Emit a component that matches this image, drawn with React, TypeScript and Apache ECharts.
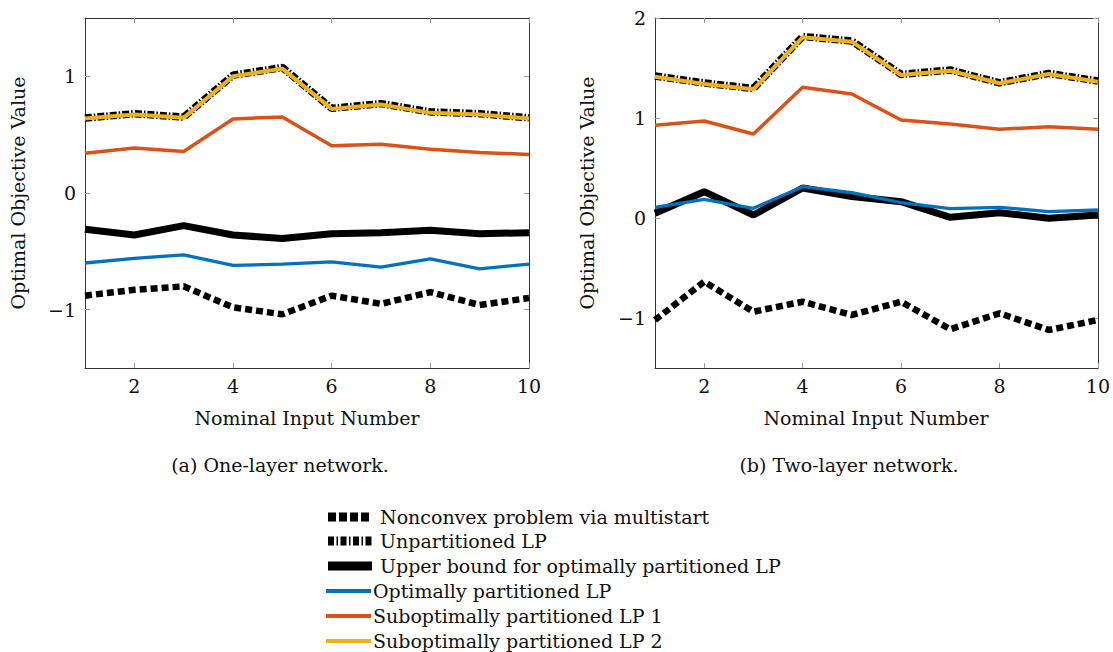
import React, { useEffect, useRef } from "react";
import * as echarts from "echarts";

const inputs = [1, 2, 3, 4, 5, 6, 7, 8, 9, 10];
const xTicks = [2, 4, 6, 8, 10];
const yTicksA = [-1, 0, 1];
const yTicksB = [-1, 0, 1, 2];

// (a) One-layer network
const aNonconvex = [-0.88, -0.83, -0.8, -0.98, -1.04, -0.88, -0.95, -0.85, -0.96, -0.9];
const aUnpartitioned = [0.642, 0.68, 0.65, 1.01, 1.076, 0.726, 0.766, 0.695, 0.68, 0.644];
const aUpperBound = [-0.31, -0.36, -0.28, -0.36, -0.39, -0.35, -0.34, -0.32, -0.35, -0.34];
const aOptimal = [-0.6, -0.56, -0.53, -0.62, -0.61, -0.59, -0.635, -0.565, -0.65, -0.61];
const aSub1 = [0.34, 0.385, 0.356, 0.635, 0.652, 0.405, 0.417, 0.376, 0.348, 0.33];
const aSub2 = [0.638, 0.672, 0.644, 1.0, 1.066, 0.721, 0.759, 0.687, 0.672, 0.638];

// (b) Two-layer network
const bNonconvex = [-1.02, -0.637, -0.937, -0.837, -0.97, -0.837, -1.113, -0.953, -1.12, -1.02];
const bUnpartitioned = [1.42, 1.35, 1.295, 1.815, 1.77, 1.436, 1.48, 1.352, 1.446, 1.37];
const bUpperBound = [0.047, 0.263, 0.03, 0.3, 0.215, 0.163, 0.007, 0.053, -0.003, 0.03];
const bOptimal = [0.107, 0.187, 0.097, 0.313, 0.253, 0.153, 0.093, 0.107, 0.063, 0.08];
const bSub1 = [0.927, 0.97, 0.84, 1.307, 1.24, 0.98, 0.94, 0.887, 0.913, 0.887];
const bSub2 = [1.413, 1.34, 1.287, 1.807, 1.763, 1.43, 1.473, 1.347, 1.44, 1.363];

const legendNames = [
  "Nonconvex problem via multistart",
  "Unpartitioned LP",
  "Upper bound for optimally partitioned LP",
  "Optimally partitioned LP",
  "Suboptimally partitioned LP 1",
  "Suboptimally partitioned LP 2",
];

const FONT = "DejaVu Serif";
const FS = 19;
const BLUE = "#0072BD";
const ORANGE = "#D95319";
const YELLOW = "#EDB120";

const fmt = (v: number) => (v < 0 ? "\u2212" + Math.abs(v) : String(v));

function makeAxes(gi: number, yMin: number, yMax: number, yTicks: number[]) {
  const axisLine = { show: true, onZero: false, lineStyle: { color: "#333", width: 1 } };
  const tickStyle = { color: "#999", width: 1 };
  const xBase = { gridIndex: gi, type: "value", min: 1, max: 10, splitLine: { show: false } };
  const yBase = { gridIndex: gi, type: "value", min: yMin, max: yMax, splitLine: { show: false } };
  const xAxes = [
    {
      ...xBase,
      position: "bottom",
      axisLine,
      axisTick: { show: true, inside: true, length: 5, customValues: xTicks, lineStyle: tickStyle },
      axisLabel: { show: true, customValues: xTicks, margin: 8, fontFamily: FONT, fontSize: FS, color: "#111" },
    },
    {
      ...xBase,
      position: "top",
      axisLine,
      axisTick: { show: true, inside: true, length: 5, customValues: xTicks, lineStyle: tickStyle },
      axisLabel: { show: false },
    },
  ];
  const yAxes = [
    {
      ...yBase,
      position: "left",
      axisLine,
      axisTick: { show: true, inside: true, length: 5, customValues: yTicks, lineStyle: tickStyle },
      axisLabel: {
        show: true,
        customValues: yTicks,
        margin: 9,
        fontFamily: FONT,
        fontSize: FS,
        color: "#111",
        formatter: fmt,
      },
    },
    {
      ...yBase,
      position: "right",
      axisLine,
      axisTick: { show: true, inside: true, length: 5, customValues: yTicks, lineStyle: tickStyle },
      axisLabel: { show: false },
    },
  ];
  return { xAxes, yAxes };
}

function makeSeries(gi: number, sets: number[][]) {
  const [non, unp, ub, opt, s1, s2] = sets;
  const toData = (arr: number[]) => inputs.map((x, i) => [x, arr[i]]);
  const base = {
    type: "line",
    xAxisIndex: gi * 2,
    yAxisIndex: gi * 2,
    symbol: "none",
    smooth: false,
    silent: true,
  };
  return [
    { ...base, name: legendNames[0], data: toData(non), lineStyle: { color: "#000", width: 6.5, type: [7, 4], cap: "butt" } },
    { ...base, name: legendNames[1], data: toData(unp), lineStyle: { color: "#000", width: 7.5, type: [7, 2, 1.5, 2], cap: "butt" } },
    { ...base, name: legendNames[2], data: toData(ub), lineStyle: { color: "#000", width: 7 } },
    { ...base, name: legendNames[3], data: toData(opt), lineStyle: { color: BLUE, width: 3.3 } },
    { ...base, name: legendNames[4], data: toData(s1), lineStyle: { color: ORANGE, width: 3.5 } },
    { ...base, name: legendNames[5], data: toData(s2), lineStyle: { color: YELLOW, width: 4 } },
  ];
}

function makeGraphics() {
  const g: any[] = [];
  const txt = (x: number, y: number, text: string, extra: any = {}) => ({
    type: "text",
    x,
    y,
    silent: true,
    style: {
      text,
      fontFamily: FONT,
      fontSize: FS,
      fill: "#111",
      align: "center",
      verticalAlign: "middle",
      ...extra,
    },
  });
  g.push({ ...txt(18, 193, "Optimal Objective Value"), rotation: Math.PI / 2 });
  g.push({ ...txt(587, 193, "Optimal Objective Value"), rotation: Math.PI / 2 });
  g.push(txt(307, 418, "Nominal Input Number"));
  g.push(txt(876, 418, "Nominal Input Number"));
  g.push(txt(280, 465, "(a) One-layer network."));
  g.push(txt(849, 465, "(b) Two-layer network."));

  const rowsY = [517, 541, 566, 591, 616, 641];
  const styles = [
    { stroke: "#000", lineWidth: 9, lineDash: [8, 3], x1: 328, x2: 372, tx: 380 },
    { stroke: "#000", lineWidth: 9, lineDash: [6, 2.5, 1.5, 2.5], x1: 328, x2: 372, tx: 380 },
    { stroke: "#000", lineWidth: 9, lineDash: null, x1: 328, x2: 372, tx: 380 },
    { stroke: BLUE, lineWidth: 4, lineDash: null, x1: 326, x2: 371, tx: 373 },
    { stroke: ORANGE, lineWidth: 4, lineDash: null, x1: 326, x2: 371, tx: 373 },
    { stroke: YELLOW, lineWidth: 4, lineDash: null, x1: 326, x2: 371, tx: 373 },
  ];
  legendNames.forEach((name, i) => {
    const s = styles[i];
    g.push({
      type: "line",
      silent: true,
      shape: { x1: s.x1, y1: rowsY[i], x2: s.x2, y2: rowsY[i] },
      style: { stroke: s.stroke, lineWidth: s.lineWidth, lineDash: s.lineDash, lineCap: "butt" },
    });
    g.push(txt(s.tx, rowsY[i], name, { align: "left" }));
  });
  return g;
}

export default function App() {
  const ref = useRef<HTMLDivElement>(null);
  useEffect(() => {
    if (!ref.current) return;
    const chart = echarts.init(ref.current, null, { renderer: "svg" });
    const a = makeAxes(0, -1.5, 1.5, yTicksA);
    const b = makeAxes(1, -1.5, 2, yTicksB);
    chart.setOption({
      animation: false,
      backgroundColor: "#fff",
      grid: [
        { left: 85, top: 18, width: 444, height: 350 },
        { left: 655, top: 18, width: 443, height: 350 },
      ],
      xAxis: [...a.xAxes, ...b.xAxes],
      yAxis: [...a.yAxes, ...b.yAxes],
      series: [
        ...makeSeries(0, [aNonconvex, aUnpartitioned, aUpperBound, aOptimal, aSub1, aSub2]),
        ...makeSeries(1, [bNonconvex, bUnpartitioned, bUpperBound, bOptimal, bSub1, bSub2]),
      ],
      graphic: makeGraphics(),
    });
    return () => chart.dispose();
  }, []);
  return (
    <div
      ref={ref}
      style={{ position: "fixed", left: 0, top: 0, width: 1113, height: 652, background: "#fff" }}
    />
  );
}
